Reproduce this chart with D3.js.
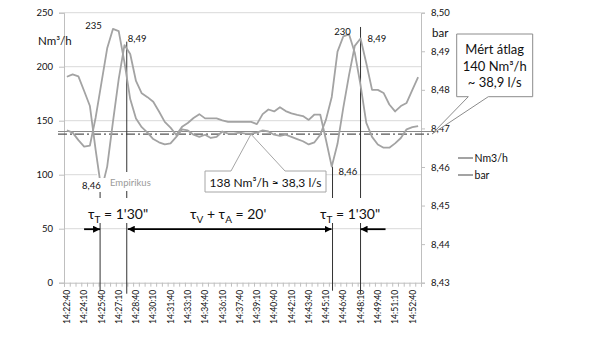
<!DOCTYPE html>
<html><head><meta charset="utf-8">
<script src="https://cdn.jsdelivr.net/npm/d3@7"></script>
<style>
html,body{margin:0;padding:0;background:#fff;}
text{font-family:Lato,"Open Sans",sans-serif;fill:#111;}
</style></head>
<body><svg id="c" width="603" height="340"></svg>
<script>
// ---------- data ----------
const categories = ["14:22:40","14:23:10","14:23:40","14:24:10","14:24:40","14:25:10","14:25:40","14:26:10","14:26:40","14:27:10",
"14:27:40","14:28:10","14:28:40","14:29:10","14:29:40","14:30:10","14:30:40","14:31:10","14:31:40","14:32:10",
"14:32:40","14:33:10","14:33:40","14:34:10","14:34:40","14:35:10","14:35:40","14:36:10","14:36:40","14:37:10",
"14:37:40","14:38:10","14:38:40","14:39:10","14:39:40","14:40:10","14:40:40","14:41:10","14:41:40","14:42:10",
"14:42:40","14:43:10","14:43:40","14:44:10","14:44:40","14:45:10","14:45:40","14:46:10","14:46:40","14:47:10",
"14:47:40","14:48:10","14:48:40","14:49:10","14:49:40","14:50:10","14:50:40","14:51:10","14:51:40","14:52:10",
"14:52:40","14:53:10"];
const tickLabels = ["14:22:40","14:24:10","14:25:40","14:27:10","14:28:40","14:30:10","14:31:40","14:33:10","14:34:40","14:36:10",
"14:37:40","14:39:10","14:40:40","14:42:10","14:43:40","14:45:10","14:46:40","14:48:10","14:49:40","14:51:10","14:52:40"];
const flow = [141,139,132,126,127,153,185,217,235,233,204,170,152,144,139,133,130,128,129,135,
142,141,137,135,137,134,135,140,138,138,139,138,138,139,141,140,137,136,137,135,
133,131,128,130,137,151,172,214,228,230,213,183,148,135,128,125,125,129,134,142,144,145];
const bar = [8.4834,8.4840,8.4835,8.4797,8.4758,8.4644,8.4540,8.4601,8.4717,8.4828,
8.4916,8.4893,8.4823,8.4791,8.4781,8.4769,8.4744,8.4717,8.4702,8.4683,
8.4704,8.4714,8.4727,8.4737,8.4726,8.4726,8.4726,8.4721,8.4717,8.4717,
8.4717,8.4717,8.4717,8.4711,8.4737,8.4749,8.4744,8.4755,8.4745,8.4739,
8.4735,8.4732,8.4722,8.4736,8.4736,8.4670,8.4601,8.4660,8.4753,8.4838,
8.4914,8.4933,8.4869,8.4800,8.4800,8.4792,8.4762,8.4744,8.4758,8.4766,8.4800,8.4833];
const leftTicks = [0,50,100,150,200,250];
const rightTicks = [8.43,8.44,8.45,8.46,8.47,8.48,8.49,8.50];
const refLevels = [140, 137.5];           // measured avg, empirical avg
const markerSec = [173, 312, 1384, 1530]; // vertical marker lines (s from start)
const seriesNames = ["Nm3/h","bar"];

// ---------- layout ----------
const svg = d3.select("#c");
const L=64, R=421, T=12.7, B=282.7, STEP=30;
const secOf = c => { const p=c.split(":").map(Number); const s0=14*3600+22*60+40; return p[0]*3600+p[1]*60+p[2]-s0; };
const x = d3.scaleLinear().domain([-STEP/2, (categories.length-0.5)*STEP]).range([L,R]);
const yL = d3.scaleLinear().domain([0,250]).range([B,T]);
const yR = d3.scaleLinear().domain([8.43,8.50]).range([B,T]);
const GRID="#d9d9d9", AX="#bfbfbf", SER="#a3a3a3";

// gridlines
svg.append("g").selectAll("line").data(leftTicks.filter(d=>d>0)).join("line")
  .attr("x1",L).attr("x2",R).attr("y1",d=>yL(d)).attr("y2",d=>yL(d))
  .attr("stroke",GRID).attr("stroke-width",1);

// left axis
const gl = svg.append("g").attr("transform",`translate(${L},0)`)
  .call(d3.axisLeft(yL).tickValues(leftTicks).tickSize(5).tickPadding(6));
gl.select(".domain").attr("stroke",AX);
gl.selectAll(".tick line").attr("stroke",AX);
gl.selectAll(".tick text").attr("font-size","9.5px").attr("font-family","Lato").attr("fill","#111");

// right axis
const gr = svg.append("g").attr("transform",`translate(${R},0)`)
  .call(d3.axisRight(yR).tickValues(rightTicks).tickSize(4).tickPadding(6)
  .tickFormat(d=>d.toFixed(2).replace(".",",")));
gr.select(".domain").attr("stroke",AX);
gr.selectAll(".tick line").attr("stroke",AX);
gr.selectAll(".tick text").attr("font-size","9.5px").attr("font-family","Lato").attr("fill","#111");

// bottom axis
const bounds = d3.range(categories.length+1).map(i=>(i-0.5)*STEP);
const gb = svg.append("g").attr("transform",`translate(0,${B})`)
  .call(d3.axisBottom(x).tickValues(bounds).tickSize(4).tickFormat(""));
gb.select(".domain").attr("stroke",AX);
gb.selectAll(".tick line").attr("stroke",AX);
svg.append("g").selectAll("text").data(tickLabels).join("text")
  .attr("transform",d=>`translate(${x(secOf(d))+3.2},${B+7}) rotate(-90)`)
  .attr("text-anchor","end").attr("font-size","8.6px").text(d=>d);

// unit labels
svg.append("text").attr("x",38).attr("y",45).attr("font-size","11.5px").text("Nm³/h");
svg.append("text").attr("x",432).attr("y",37).attr("font-size","11.5px").text("bar");

// reference average lines
svg.append("line").attr("x1",58).attr("x2",432).attr("y1",yL(refLevels[0])).attr("y2",yL(refLevels[0]))
  .attr("stroke","#8a8a8a").attr("stroke-width",1.2);
svg.append("line").attr("x1",58).attr("x2",432).attr("y1",yL(refLevels[1])).attr("y2",yL(refLevels[1]))
  .attr("stroke","#555").attr("stroke-width",1.3).attr("stroke-dasharray","9,3,2,3");

// vertical marker lines
const markTop = [bar[6], 8.4925, bar[46], 8.4963];
svg.append("g").selectAll("line").data(markerSec).join("line")
  .attr("x1",d=>x(d)).attr("x2",d=>x(d))
  .attr("y1",(d,i)=>yR(markTop[i])).attr("y2",(d,i)=>B+8+(i%2)*3)
  .attr("stroke","#333").attr("stroke-width",1);

// white box behind "Empirikus" (covers grid/markers, not series)
svg.append("rect").attr("x",97).attr("y",172).attr("width",108).attr("height",19).attr("fill","#fff");

// series
const lineL = d3.line().x((d,i)=>x(i*STEP)).y(d=>yL(d));
const lineR = d3.line().x((d,i)=>x(i*STEP)).y(d=>yR(d));
svg.append("path").datum(bar).attr("d",lineR).attr("fill","none").attr("stroke",SER).attr("stroke-width",1.8).attr("stroke-linejoin","round");
svg.append("path").datum(flow).attr("d",lineL).attr("fill","none").attr("stroke",SER).attr("stroke-width",1.8).attr("stroke-linejoin","round");

// data labels
const fPk1 = flow.indexOf(d3.max(flow.slice(0,20)));
const fPk2 = 40 + flow.slice(40).indexOf(d3.max(flow.slice(40)));
svg.append("text").attr("x",x(fPk1*STEP)-19.5).attr("y",yL(flow[fPk1])+0.5).attr("text-anchor","middle").attr("font-size","9.5px").text(String(flow[fPk1]));
svg.append("text").attr("x",x(fPk2*STEP)-6.5).attr("y",yL(flow[fPk2])+0.7).attr("text-anchor","middle").attr("font-size","9.5px").text(String(flow[fPk2]));
svg.append("text").attr("x",x(markerSec[1])+1).attr("y",42).attr("font-size","9.5px").text("8,49");
svg.append("text").attr("x",x(markerSec[3])+7).attr("y",42).attr("font-size","9.5px").text("8,49");
svg.append("text").attr("x",x(markerSec[2])+6).attr("y",175).attr("font-size","9.5px").text("8,46");
svg.append("rect").attr("x",79).attr("y",178).attr("width",28).attr("height",14).attr("fill","#fff");
svg.append("text").attr("x",x(markerSec[0])-18).attr("y",189).attr("font-size","9.5px").text("8,46");
svg.append("text").attr("x",110).attr("y",185.5).attr("font-size","9.5px").attr("fill","#9a9a9a").style("fill","#9a9a9a").text("Empirikus");

// tau labels with white boxes
function tauLabel(x0, y0, parts){
  const t = svg.append("text").attr("x",x0).attr("y",y0).attr("font-size","14px");
  parts.forEach(p=>{
    const s = t.append("tspan").text(p[0]);
    if(p[1]==="sub") s.attr("font-size","10px").attr("dy",4);
    if(p[1]==="up") s.attr("dy",-4);
  });
  return t;
}
svg.append("rect").attr("x",86).attr("y",198).attr("width",62).attr("height",25).attr("fill","#fff");
svg.append("rect").attr("x",186).attr("y",199).attr("width",84).attr("height",25).attr("fill","#fff");
svg.append("rect").attr("x",317).attr("y",198).attr("width",62).attr("height",25).attr("fill","#fff");
tauLabel(88,218.5,[["τ"],["T","sub"],[" = 1'30\"","up"]]);
tauLabel(190,218.5,[["τ"],["V","sub"],[" + τ","up"],["A","sub"],[" = 20'","up"]]);
tauLabel(320,218.5,[["τ"],["T","sub"],[" = 1'30\"","up"]]);

// arrows
const defs = svg.append("defs");
defs.append("marker").attr("id","ah").attr("viewBox","0 0 10 10").attr("refX",10).attr("refY",5)
  .attr("markerWidth",7).attr("markerHeight",7).attr("markerUnits","userSpaceOnUse").attr("orient","auto-start-reverse")
  .append("path").attr("d","M0,0 L10,5 L0,10 Z").attr("fill","#000");
const ay = yL(50)+0.5;
function arrow(x1,x2,both){
  const l = svg.append("line").attr("x1",x1).attr("x2",x2).attr("y1",ay).attr("y2",ay)
    .attr("stroke","#000").attr("stroke-width",1.8).attr("marker-end","url(#ah)");
  if(both) l.attr("marker-start","url(#ah)");
}
arrow(x(markerSec[0])-16, x(markerSec[0]), false);
arrow(x(markerSec[1])+1, x(markerSec[2])-1, true);
arrow(x(markerSec[3])+25, x(markerSec[3]), false);

// callouts
const tip1 = [432, yL(refLevels[0])+2.5];
svg.append("path").attr("d",`M456.7,34 H532.7 V96.7 H488.3 L${tip1[0]},${tip1[1]} L468.3,96.7 H456.7 Z`)
  .attr("fill","#fff").attr("stroke","#8c8c8c").attr("stroke-width",1);
const ct = svg.append("text").attr("text-anchor","middle").attr("font-size","13px");
[["Mért átlag",54],["140 Nm³/h",70.5],["~ 38,9 l/s",86.5]].forEach(d=>ct.append("tspan").attr("x",494.7).attr("y",d[1]).text(d[0]));

const tip2 = [251, yL(refLevels[1])];
svg.append("path").attr("d",`M205,171 H231 L${tip2[0]},${tip2[1]} L285,171 H326 V192 H205 Z`)
  .attr("fill","#fff").attr("stroke","#a6a6a6").attr("stroke-width",1);
svg.append("text").attr("x",265.5).attr("y",186.5).attr("text-anchor","middle").attr("font-size","12px").text("138 Nm³/h ≈ 38,3 l/s");

// legend
const lg = svg.append("g");
seriesNames.forEach((n,i)=>{
  lg.append("line").attr("x1",458).attr("x2",473).attr("y1",158+i*17).attr("y2",158+i*17).attr("stroke",SER).attr("stroke-width",2);
  lg.append("text").attr("x",474.5).attr("y",161.5+i*17).attr("font-size","10.5px").text(n);
});
</script></body></html>
